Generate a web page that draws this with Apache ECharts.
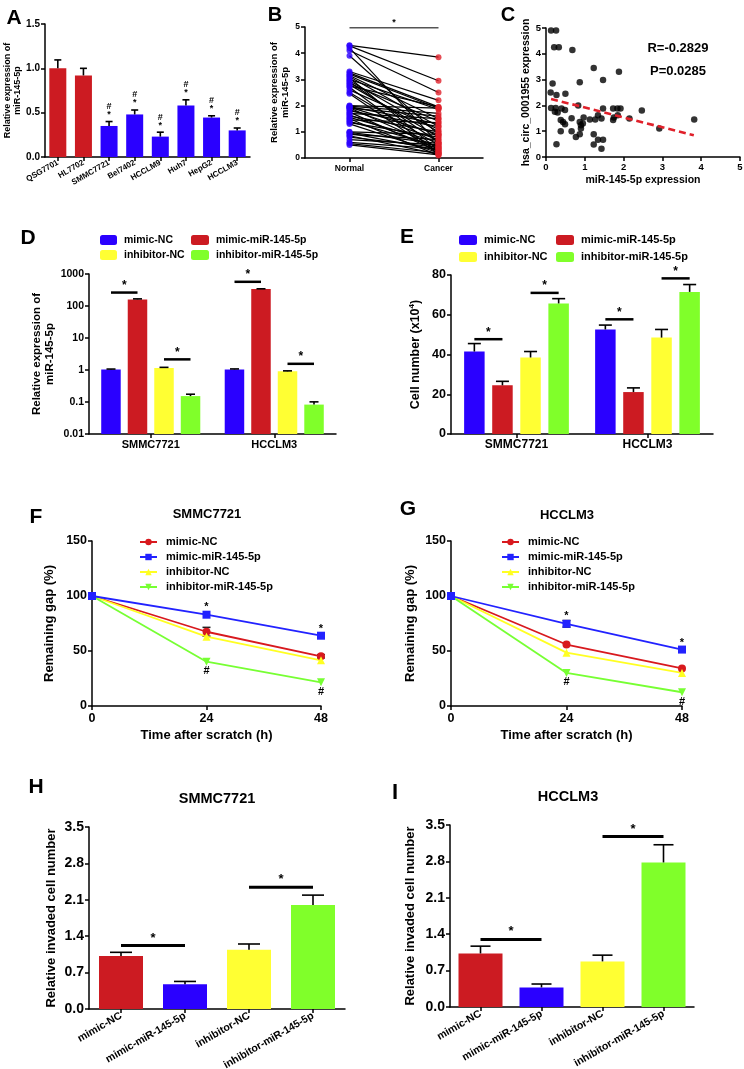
<!DOCTYPE html>
<html><head><meta charset="utf-8">
<script src="https://cdn.jsdelivr.net/npm/echarts@6/dist/echarts.min.js"></script>
<style>html,body{margin:0;padding:0;background:#fff}#c{width:744px;height:1069px}</style>
</head><body><div id="c"></div>
<script>
// ================= DATA =================
// Panel A
const aCellLines = ['QSG7701','HL7702','SMMC7721','Bel7402','HCCLM9','Huh7','HepG2','HCCLM3'];
const aExpr = [1.00, 0.92, 0.35, 0.48, 0.23, 0.58, 0.445, 0.30];
const aErr  = [0.095, 0.08, 0.05, 0.05, 0.05, 0.065, 0.02, 0.027];
const aIsNormal = [true, true, false, false, false, false, false, false];
const aMarked = [2, 3, 4, 5, 6, 7];
// Panel B (paired samples)
const bGroups = ['Normal', 'Cancer'];
const bNormal = [4.3,4.28,4.2,4.1,3.9,3.3,3.25,3.2,3.15,3.1,3.05,3.0,2.95,2.9,2.85,2.8,2.75,2.7,2.6,2.5,2.45,2.0,1.98,1.96,1.94,1.92,1.9,1.85,1.8,1.75,1.7,1.65,1.6,1.55,1.5,1.45,1.4,1.35,1.3,1.0,0.98,0.95,0.9,0.85,0.8,0.7,0.6,0.55,0.5];
const bCancer = [3.85,2.95,0.55,2.5,0.9,2.2,1.95,1.9,1.5,1.2,0.3,1.85,1.0,0.6,1.4,0.8,1.95,0.2,1.1,0.5,0.15,1.9,1.7,1.3,0.9,0.4,1.6,0.7,1.2,0.25,1.5,0.35,1.0,0.6,0.1,1.35,0.45,0.8,0.2,0.9,0.55,0.3,0.7,0.15,0.4,0.5,0.35,0.2,0.12];
const bSigY = 4.97;
// Panel C
const cMiR  = [0.13,0.26,0.21,0.33,0.68,1.23,1.88,1.47,0.87,0.17,0.12,0.27,0.50,0.13,0.25,0.40,0.49,0.83,0.23,0.66,0.38,0.44,0.49,0.87,0.90,0.97,1.13,1.27,1.34,1.47,1.43,1.73,1.84,1.92,1.73,1.75,1.85,2.15,2.47,2.92,3.82,0.38,0.66,0.77,0.87,1.23,1.34,1.47,1.23,1.43,0.27,0.90,0.30,0.95];
const cCirc = [4.9,4.9,4.25,4.25,4.15,3.45,3.3,2.98,2.9,2.85,2.5,2.4,2.45,1.9,1.9,1.88,1.82,2.0,1.75,1.5,1.43,1.36,1.27,1.36,1.23,1.53,1.45,1.45,1.62,1.88,1.49,1.88,1.88,1.88,1.43,1.53,1.62,1.49,1.8,1.1,1.45,1.0,1.0,0.78,0.88,0.88,0.67,0.67,0.48,0.32,0.49,1.1,1.72,1.3];
const cTrendX = [0.13, 3.81];
const cTrendY = [2.25, 0.84];
const cStats = ['R=-0.2829', 'P=0.0285'];
// Shared
const treatments = ['mimic-NC','mimic-miR-145-5p','inhibitor-NC','inhibitor-miR-145-5p'];
const hccLines = ['SMMC7721','HCCLM3'];
// Panel D (log scale)
const dMimicNC  = [1.03, 1.04];
const dMimicMiR = [161, 337];
const dInhNC    = [1.16, 0.91];
const dInhMiR   = [0.153, 0.083];
const dErrMimicNC  = [0.04, 0.04];
const dErrMimicMiR = [6, 8];
const dErrInhNC    = [0.05, 0.03];
const dErrInhMiR   = [0.022, 0.018];
const dSig = [[0, 263, 0, 1], [0, 2.15, 2, 3], [1, 570, 0, 1], [1, 1.56, 2, 3]];
// Panel E
const eMimicNC  = [41.5, 52.6];
const eMimicMiR = [24.5, 21.1];
const eInhNC    = [38.5, 48.5];
const eInhMiR   = [65.7, 71.5];
const eErrMimicNC  = [4.0, 2.2];
const eErrMimicMiR = [2.0, 2.1];
const eErrInhNC    = [3.0, 4.1];
const eErrInhMiR   = [2.4, 3.7];
const eSig = [[0, 47.7, 0, 1], [0, 71.0, 2, 3], [1, 57.7, 0, 1], [1, 78.3, 2, 3]];
// Panel F (SMMC7721 wound healing)
const timePoints = [0, 24, 48];
const fMimicNC  = [100, 67.5, 45.2];
const fMimicMiR = [100, 83, 63.9];
const fInhNC    = [100, 63, 41.5];
const fInhMiR   = [100, 40.3, 21.5];
const fErrMimicNC = [0, 4, 1.5];
// Panel G (HCCLM3 wound healing)
const gMimicNC  = [100, 55.9, 34.1];
const gMimicMiR = [100, 74.7, 51.3];
const gInhNC    = [100, 48.5, 30.1];
const gInhMiR   = [100, 30.1, 12.5];
const gErrMimicMiR = [0, 3, 1.5];
// Panel H / I (invasion)
const hVals = [1.02, 0.475, 1.14, 2.0];
const hErr  = [0.07, 0.055, 0.11, 0.19];
const hSig  = [[0, 1, 1.22], [2, 3, 2.34]];
const iVals = [1.03, 0.377, 0.877, 2.78];
const iErr  = [0.14, 0.065, 0.12, 0.34];
const iSig  = [[0, 1, 1.30], [2, 3, 3.28]];

// ================= STYLE =================
const FONT = "'Liberation Sans', Arial, Helvetica, sans-serif";
const RED = '#CC1B22', BLUE = '#2A00FF', YELLOW = '#FFFF33', GREEN = '#80FF2A';
const TCOL = [BLUE, RED, YELLOW, GREEN];          // D/E order
const HCOL = [RED, BLUE, YELLOW, GREEN];          // H/I order
const LCOL = ['#D8191E', '#2222FF', '#FFFF22', '#77FF33'];
const LSYM = ['circle', 'rect', 'triangle', 'path://M0,0 L10,0 L5,9 Z'];

function lbl(fs, extra) { return Object.assign({color:'#000', fontWeight:'bold', fontSize:fs, fontFamily:FONT, margin:6}, extra || {}); }
function ax(gi, o) {
  return Object.assign({
    gridIndex: gi,
    axisLine: {show:true, onZero:false, lineStyle:{color:'#000', width:1.5}},
    axisTick: {show:true, length:4, alignWithLabel:true, lineStyle:{color:'#000', width:1.5}},
    splitLine: {show:false},
    nameLocation: 'middle',
  }, o);
}
function nts(fs, extra) { return Object.assign({color:'#000', fontWeight:'bold', fontSize:fs, fontFamily:FONT}, extra || {}); }

// ---------- custom renderers ----------
function errorSeries(xi, yi, vals, errs, slot, slotW, cap) {
  return {
    type:'custom', xAxisIndex:xi, yAxisIndex:yi, silent:true, z:5,
    data: vals.map((v, i) => [i, v, errs[i]]),
    renderItem: (p, api) => {
      const c = api.value(0), v = api.value(1), e = api.value(2);
      if (!e) return null;
      const a = api.coord([c, v]), b = api.coord([c, v + e]);
      const x = a[0] + slot * slotW;
      return {type:'group', children:[
        {type:'line', shape:{x1:x, y1:a[1], x2:x, y2:b[1]}, style:{stroke:'#000', lineWidth:1.6}},
        {type:'line', shape:{x1:x - cap/2, y1:b[1], x2:x + cap/2, y2:b[1]}, style:{stroke:'#000', lineWidth:1.6}}
      ]};
    }
  };
}
function sigSlotSeries(xi, yi, list, slotW, fs, lw) {
  return {
    type:'custom', xAxisIndex:xi, yAxisIndex:yi, silent:true, z:6,
    data: list,
    renderItem: (p, api) => {
      const c = api.value(0), v = api.value(1), k1 = api.value(2), k2 = api.value(3);
      const pt = api.coord([c, v]);
      const x1 = pt[0] + (k1 - 1.5) * slotW, x2 = pt[0] + (k2 - 1.5) * slotW;
      return {type:'group', children:[
        {type:'line', shape:{x1:x1, y1:pt[1], x2:x2, y2:pt[1]}, style:{stroke:'#000', lineWidth:lw}},
        {type:'text', x:(x1 + x2)/2, y:pt[1] - 1, style:{text:'*', fill:'#000', font:'bold ' + fs + 'px ' + FONT, align:'center', verticalAlign:'bottom'}}
      ]};
    }
  };
}
function sigCatSeries(xi, yi, list, fs, lw, color) {
  return {
    type:'custom', xAxisIndex:xi, yAxisIndex:yi, silent:true, z:6,
    data: list,
    renderItem: (p, api) => {
      const a = api.coord([api.value(0), api.value(2)]), b = api.coord([api.value(1), api.value(2)]);
      return {type:'group', children:[
        {type:'line', shape:{x1:a[0], y1:a[1], x2:b[0], y2:b[1]}, style:{stroke:color, lineWidth:lw}},
        {type:'text', x:(a[0] + b[0])/2, y:a[1] - 1, style:{text:'*', fill:'#000', font:'bold ' + fs + 'px ' + FONT, align:'center', verticalAlign:'bottom'}}
      ]};
    }
  };
}
function textMarks(xi, yi, pts, txt, fs) {
  return {
    type:'custom', xAxisIndex:xi, yAxisIndex:yi, silent:true, z:7,
    data: pts,
    renderItem: (p, api) => {
      const pt = api.coord([api.value(0), api.value(1)]);
      return {type:'text', x:pt[0], y:pt[1] + api.value(2), style:{text:txt, fill:'#000', font:'bold ' + fs + 'px ' + FONT, align:'center', verticalAlign:'middle'}};
    }
  };
}

// ---------- grids ----------
const grids = [
  {left:45,  top:24,  width:205, height:133},  // A
  {left:305, top:27,  width:178, height:131},  // B
  {left:546, top:28,  width:194, height:129},  // C
  {left:89,  top:274, width:247, height:160},  // D
  {left:451, top:275, width:262, height:159},  // E
  {left:92,  top:541, width:229, height:165},  // F
  {left:451, top:541, width:231, height:165},  // G
  {left:89,  top:827, width:256, height:182},  // H
  {left:450, top:825, width:244, height:182}   // I
].map(g => Object.assign({containLabel:false, outerBoundsMode:'none'}, g));

const xAxes = [
  ax(0, {type:'category', data:aCellLines, axisLabel:lbl(8, {rotate:30, interval:0, margin:5})}),
  ax(1, {type:'category', data:bGroups, axisLabel:lbl(8.5, {margin:6})}),
  ax(2, {type:'value', min:0, max:5, interval:1, axisLabel:lbl(9.5, {margin:5}), name:'miR-145-5p expression', nameGap:18, nameTextStyle:nts(10.5)}),
  ax(3, {type:'category', data:hccLines, axisLabel:lbl(11, {margin:5})}),
  ax(4, {type:'category', data:hccLines, axisLabel:lbl(12, {margin:5})}),
  ax(5, {type:'value', min:0, max:48, interval:24, axisLabel:lbl(12.5, {margin:6}), name:'Time after scratch (h)', nameGap:23, nameTextStyle:nts(13)}),
  ax(6, {type:'value', min:0, max:48, interval:24, axisLabel:lbl(12.5, {margin:6}), name:'Time after scratch (h)', nameGap:23, nameTextStyle:nts(13)}),
  ax(7, {type:'category', data:treatments, axisLabel:lbl(10.5, {rotate:30, interval:0, margin:6})}),
  ax(8, {type:'category', data:treatments, axisLabel:lbl(10.5, {rotate:30, interval:0, margin:6})})
];
const yAxes = [
  ax(0, {type:'value', min:0, max:1.5, interval:0.5, axisLabel:lbl(10, {formatter:v => v.toFixed(1), margin:5}),
    name:'Relative expression of\nmiR-145-5p', nameGap:22, nameTextStyle:nts(9, {lineHeight:10})}),
  ax(1, {type:'value', min:0, max:5, interval:1, axisLabel:lbl(8.5, {margin:5}),
    name:'Relative expression of\nmiR-145-5p', nameGap:13, nameTextStyle:nts(9.5, {lineHeight:11})}),
  ax(2, {type:'value', min:0, max:5, interval:1, axisLabel:lbl(9.5, {margin:5}),
    name:'hsa_circ_0001955 expression', nameGap:14, nameTextStyle:nts(10.5)}),
  ax(3, {type:'log', logBase:10, min:0.01, max:1000, startValue:0.01,
    axisLabel:lbl(10.5, {margin:5, formatter:v => String(parseFloat(Number(v).toPrecision(3)))}),
    name:'Relative expression of\nmiR-145-5p', nameGap:31, nameTextStyle:nts(11.5, {lineHeight:13})}),
  ax(4, {type:'value', min:0, max:80, interval:20, axisLabel:lbl(12.5, {margin:5}),
    name:'Cell number (x10{s|4})', nameGap:28, nameTextStyle:nts(12.5, {rich:{s:{fontSize:8, fontWeight:'bold', fontFamily:FONT, color:'#000', verticalAlign:'top', padding:[0,0,7,0]}}})}),
  ax(5, {type:'value', min:0, max:150, interval:50, axisLabel:lbl(12.5, {margin:5}),
    name:'Remaining gap (%)', nameGap:36, nameTextStyle:nts(13)}),
  ax(6, {type:'value', min:0, max:150, interval:50, axisLabel:lbl(12.5, {margin:5}),
    name:'Remaining gap (%)', nameGap:34, nameTextStyle:nts(13)}),
  ax(7, {type:'value', min:0, max:3.5, interval:0.7, axisLabel:lbl(14, {formatter:v => v.toFixed(1), margin:5}),
    name:'Relative invaded cell number', nameGap:31, nameTextStyle:nts(13)}),
  ax(8, {type:'value', min:0, max:3.5, interval:0.7, axisLabel:lbl(14, {formatter:v => v.toFixed(1), margin:5}),
    name:'Relative invaded cell number', nameGap:33, nameTextStyle:nts(13)})
];

// ---------- series ----------
const series = [];
// A
series.push({type:'bar', xAxisIndex:0, yAxisIndex:0, barWidth:17, z:3,
  data: aExpr.map((v, i) => ({value:v, itemStyle:{color: aIsNormal[i] ? RED : BLUE}}))});
series.push(errorSeries(0, 0, aExpr, aErr, 0, 0, 7));
series.push(textMarks(0, 0, aMarked.map(i => [i, aExpr[i] + aErr[i], -7]), '*', 9));
series.push(textMarks(0, 0, aMarked.map(i => [i, aExpr[i] + aErr[i], -15]), '#', 9));
// B
bNormal.forEach((n, i) => series.push({type:'line', xAxisIndex:1, yAxisIndex:1, silent:true, symbol:'none', z:2,
  lineStyle:{color:'#000', width:1.2}, data:[n, bCancer[i]]}));
series.push({type:'scatter', xAxisIndex:1, yAxisIndex:1, symbolSize:6, z:4, itemStyle:{color:BLUE}, data:bNormal.map(v => [0, v])});
series.push({type:'scatter', xAxisIndex:1, yAxisIndex:1, symbolSize:6, z:4, itemStyle:{color:'#E0202A'}, data:bCancer.map(v => [1, v])});
series.push(sigCatSeries(1, 1, [[0, 1, bSigY]], 9, 1.5, '#555'));
// C
series.push({type:'scatter', xAxisIndex:2, yAxisIndex:2, symbolSize:6.5, z:4, itemStyle:{color:'#000'}, data:cMiR.map((x, i) => [x, cCirc[i]])});
series.push({type:'line', xAxisIndex:2, yAxisIndex:2, symbol:'none', z:5, lineStyle:{color:'#E0202A', width:2.6, type:[7, 4]},
  data:cTrendX.map((x, i) => [x, cTrendY[i]])});
// D
const dVals = [dMimicNC, dMimicMiR, dInhNC, dInhMiR];
const dErrs = [dErrMimicNC, dErrMimicMiR, dErrInhNC, dErrInhMiR];
const D_SLOT = 26.5;
treatments.forEach((t, k) => {
  series.push({type:'bar', name:'D|' + t, xAxisIndex:3, yAxisIndex:3, barWidth:19.5, barGap:'36%', z:3, itemStyle:{color:TCOL[k]}, data:dVals[k]});
});
treatments.forEach((t, k) => series.push(errorSeries(3, 3, dVals[k], dErrs[k], k - 1.5, D_SLOT, 9)));
series.push(sigSlotSeries(3, 3, dSig, D_SLOT, 12, 2.5));
// E
const eVals = [eMimicNC, eMimicMiR, eInhNC, eInhMiR];
const eErrs = [eErrMimicNC, eErrMimicMiR, eErrInhNC, eErrInhMiR];
const E_SLOT = 28.1;
treatments.forEach((t, k) => {
  series.push({type:'bar', name:'E|' + t, xAxisIndex:4, yAxisIndex:4, barWidth:20.5, barGap:'37%', z:3, itemStyle:{color:TCOL[k]}, data:eVals[k]});
});
treatments.forEach((t, k) => series.push(errorSeries(4, 4, eVals[k], eErrs[k], k - 1.5, E_SLOT, 13)));
series.push(sigSlotSeries(4, 4, eSig, E_SLOT, 12, 2.5));
// F & G
const fVals = [fMimicNC, fMimicMiR, fInhNC, fInhMiR];
const gVals = [gMimicNC, gMimicMiR, gInhNC, gInhMiR];
function lineSeries(prefix, xi, vals) {
  return treatments.map((t, k) => ({
    type:'line', name: prefix + '|' + t, xAxisIndex:xi, yAxisIndex:xi, z: 4 + (k === 1 ? 1 : 0),
    symbol: LSYM[k], symbolSize: 8,
    lineStyle:{color:LCOL[k], width:1.8}, itemStyle:{color:LCOL[k]},
    data: timePoints.map((x, i) => [x, vals[k][i]])
  }));
}
series.push(...lineSeries('F', 5, fVals));
series.push(...lineSeries('G', 6, gVals));
function lineErr(xi, vals, errs) {
  return {type:'custom', xAxisIndex:xi, yAxisIndex:xi, silent:true, z:3,
    data: timePoints.map((x, i) => [x, vals[i], errs[i]]),
    renderItem:(p, api) => {
      const e = api.value(2); if (!e) return null;
      const a = api.coord([api.value(0), api.value(1) - e]), b = api.coord([api.value(0), api.value(1) + e]);
      return {type:'group', children:[
        {type:'line', shape:{x1:a[0], y1:a[1], x2:b[0], y2:b[1]}, style:{stroke:'#222', lineWidth:1.5}},
        {type:'line', shape:{x1:a[0]-4, y1:a[1], x2:a[0]+4, y2:a[1]}, style:{stroke:'#222', lineWidth:1.5}},
        {type:'line', shape:{x1:b[0]-4, y1:b[1], x2:b[0]+4, y2:b[1]}, style:{stroke:'#222', lineWidth:1.5}}
      ]};
    }};
}
series.push(lineErr(5, fMimicNC, fErrMimicNC));
series.push(lineErr(6, gMimicMiR, gErrMimicMiR));
series.push(textMarks(5, 5, [[24, fMimicMiR[1], -8], [48, fMimicMiR[2], -7]], '*', 11));
series.push(textMarks(5, 5, [[24, fInhMiR[1], 9], [48, fInhMiR[2], 10]], '#', 11));
series.push(textMarks(6, 6, [[24, gMimicMiR[1], -8], [48, gMimicMiR[2], -7]], '*', 11));
series.push(textMarks(6, 6, [[24, gInhMiR[1], 9], [48, gInhMiR[2], 10]], '#', 11));
// H & I
series.push({type:'bar', xAxisIndex:7, yAxisIndex:7, barWidth:44, z:3, data:hVals.map((v, i) => ({value:v, itemStyle:{color:HCOL[i]}}))});
series.push(errorSeries(7, 7, hVals, hErr, 0, 0, 22));
series.push(sigCatSeries(7, 7, hSig, 13, 3, '#000'));
series.push({type:'bar', xAxisIndex:8, yAxisIndex:8, barWidth:44, z:3, data:iVals.map((v, i) => ({value:v, itemStyle:{color:HCOL[i]}}))});
series.push(errorSeries(8, 8, iVals, iErr, 0, 0, 20));
series.push(sigCatSeries(8, 8, iSig, 13, 3, '#000'));

// ---------- legends ----------
const strip = n => n.split('|')[1];
function barLegend(prefix, names, left, top, gap, fs, w) {
  return {show:true, selectedMode:false, orient:'vertical', left:left, top:top, padding:0, itemGap:gap,
    itemWidth:w, itemHeight:10, icon:'roundRect', formatter:strip,
    textStyle:{color:'#000', fontWeight:'bold', fontSize:fs, fontFamily:FONT, lineHeight:12, padding:[0,0,0,2]},
    data:names.map(n => prefix + '|' + n)};
}
function lineLegend(prefix, left, top) {
  return {show:true, selectedMode:false, orient:'vertical', left:left, top:top, padding:0, itemGap:3,
    itemWidth:17, itemHeight:8, formatter:strip,
    textStyle:{color:'#000', fontWeight:'bold', fontSize:11, fontFamily:FONT, lineHeight:12, padding:[0,0,0,4]},
    data:treatments.map(n => prefix + '|' + n)};
}
const legends = [
  barLegend('D', [treatments[0], treatments[2]], 100, 234, 3, 10.5, 17),
  barLegend('D', [treatments[1], treatments[3]], 191, 234, 3, 10.5, 18),
  barLegend('E', [treatments[0], treatments[2]], 459, 234, 5, 11, 18),
  barLegend('E', [treatments[1], treatments[3]], 556, 234, 5, 11, 18),
  lineLegend('F', 139, 536),
  lineLegend('G', 501, 536)
];

// ---------- texts ----------
function txt(x, y, s, fs) {
  return {type:'text', x:x, y:y, silent:true, style:{text:s, fill:'#000', font:'bold ' + fs + 'px ' + FONT,
    align:'center', verticalAlign:'middle', textAlign:'center', textVerticalAlign:'middle'}};
}
const graphics = [
  txt(14, 18, 'A', 21), txt(275, 15, 'B', 20), txt(508, 15, 'C', 20),
  txt(28, 238, 'D', 21), txt(407, 237, 'E', 21),
  txt(36, 517, 'F', 21), txt(408, 509, 'G', 21),
  txt(36, 787, 'H', 21), txt(395, 793, 'I', 22),
  txt(678, 48, cStats[0], 13), txt(678, 71, cStats[1], 13),
  txt(207, 514, 'SMMC7721', 13), txt(567, 515, 'HCCLM3', 13),
  txt(217, 799, 'SMMC7721', 14.5), txt(568, 797, 'HCCLM3', 14.5)
];

const chart = echarts.init(document.getElementById('c'), null, {renderer:'canvas', width:744, height:1069});
chart.setOption({
  animation:false,
  backgroundColor:'#fff',
  textStyle:{fontFamily:FONT},
  grid:grids, xAxis:xAxes, yAxis:yAxes,
  legend:legends,
  series:series,
  graphic:{elements:graphics}
});
</script></body></html>
